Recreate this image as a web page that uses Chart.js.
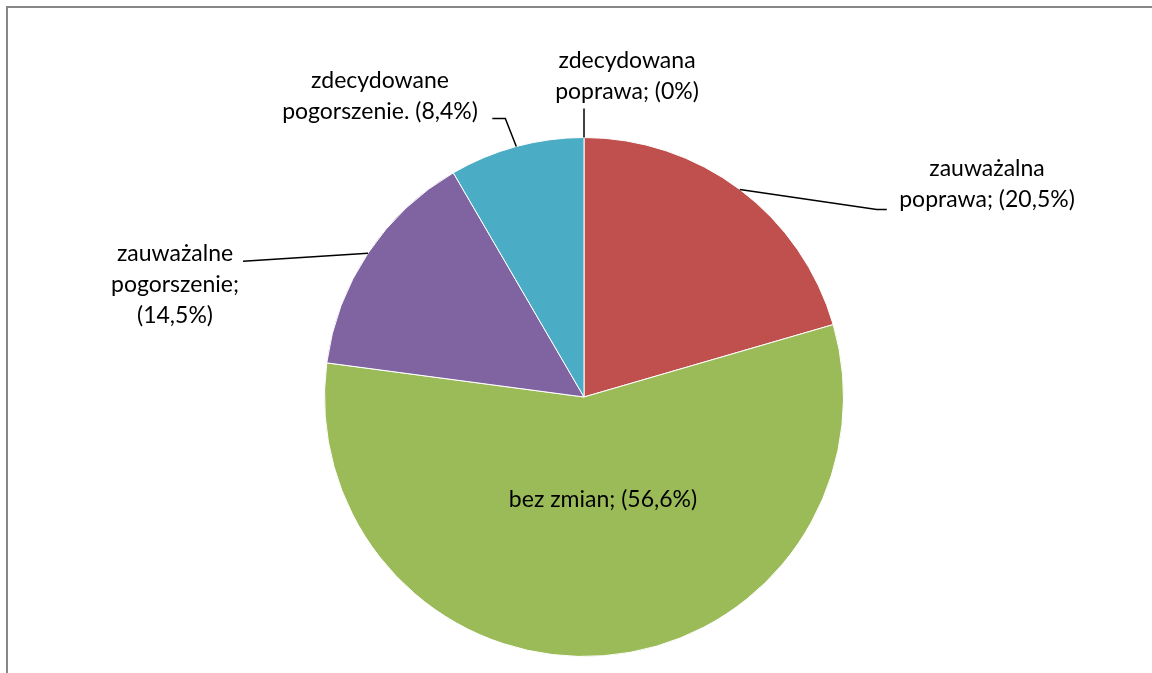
<!DOCTYPE html>
<html>
<head>
<meta charset="utf-8">
<script src="https://cdn.jsdelivr.net/npm/chart.js@4/dist/chart.umd.min.js"></script>
<style>
  html, body { margin: 0; padding: 0; background: #fff; overflow: hidden; }
  #wrap { position: relative; width: 1152px; height: 673px; }
  #frame {
    position: absolute; left: 6px; top: 6px; width: 1200px; height: 720px;
    border: 2px solid #878787; box-sizing: border-box;
  }
  #pie { position: absolute; left: 0; top: 0; }
</style>
</head>
<body>
<div id="wrap">
  <div id="frame"></div>
  <canvas id="pie" width="1152" height="673"></canvas>
</div>
<script>
// --- data ---
var categories = [
  "zdecydowana poprawa",
  "zauważalna poprawa",
  "bez zmian",
  "zauważalne pogorszenie",
  "zdecydowane pogorszenie"
];
var values = [0, 20.5, 56.6, 14.5, 8.4];
var colors = ["#4F81BD", "#C0504D", "#9BBB59", "#8064A2", "#4BACC6"];
var labelLines = [
  ["zdecydowana", "poprawa; (0%)"],
  ["zauważalna", "poprawa; (20,5%)"],
  ["bez zmian; (56,6%)"],
  ["zauważalne", "pogorszenie;", "(14,5%)"],
  ["zdecydowane", "pogorszenie. (8,4%)"]
];

// label placement: text centre x, first baseline y, leader bends relative to slice edge
var labelLayout = [
  { x: 627, y: 68, leader: [[0, -29]] },
  { x: 987, y: 176, leader: [[137, 20], [147, 20]] },
  { x: 603, y: 507, leader: null },
  { x: 175, y: 261, leader: [[-125, 8]] },
  { x: 380, y: 88, leader: [[-11, -28], [-24, -28]] }
];
var lineHeight = 31;

var dataLabels = {
  id: "dataLabels",
  afterDatasetsDraw: function (chart) {
    var ctx = chart.ctx;
    var arcs = chart.getDatasetMeta(0).data;
    ctx.save();
    ctx.font = "23px Lato, 'Open Sans', sans-serif";
    ctx.fillStyle = "#000";
    ctx.strokeStyle = "#000";
    ctx.lineWidth = 1.5;
    ctx.textAlign = "center";
    ctx.textBaseline = "alphabetic";
    arcs.forEach(function (arc, i) {
      var lay = labelLayout[i];
      if (lay.leader) {
        var p = arc.getProps(["x", "y", "startAngle", "endAngle", "outerRadius"], true);
        var mid = (p.startAngle + p.endAngle) / 2;
        var ax = p.x + Math.cos(mid) * p.outerRadius;
        var ay = p.y + Math.sin(mid) * p.outerRadius;
        ctx.beginPath();
        ctx.moveTo(ax, ay);
        lay.leader.forEach(function (pt) { ctx.lineTo(ax + pt[0], ay + pt[1]); });
        ctx.stroke();
      }
      labelLines[i].forEach(function (txt, k) {
        ctx.fillText(txt, lay.x, lay.y + k * lineHeight);
      });
    });
    ctx.restore();
  }
};

new Chart(document.getElementById("pie"), {
  type: "pie",
  data: {
    labels: categories,
    datasets: [{
      data: values,
      backgroundColor: colors,
      borderColor: "#ffffff",
      borderWidth: 1
    }]
  },
  options: {
    responsive: false,
    animation: false,
    layout: { padding: { left: 324, right: 308, top: 137, bottom: 16 } },
    plugins: {
      legend: { display: false },
      tooltip: { enabled: false }
    }
  },
  plugins: [dataLabels]
});
</script>
</body>
</html>
